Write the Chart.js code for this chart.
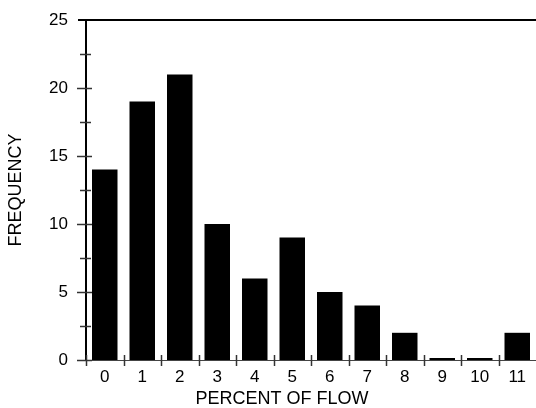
<!DOCTYPE html>
<html>
<head>
<meta charset="utf-8">
<script src="https://cdn.jsdelivr.net/npm/chart.js@4/dist/chart.umd.min.js"></script>
<style>
  html, body { margin: 0; padding: 0; background: #fff; }
  #wrap { width: 536px; height: 408px; }
</style>
</head>
<body>
<div id="wrap"><canvas id="chart" width="536" height="408"></canvas></div>
<script>
const categories = ['0', '1', '2', '3', '4', '5', '6', '7', '8', '9', '10', '11'];
const frequency = [14, 19, 21, 10, 6, 9, 5, 4, 2, 0, 0, 2];
const yTicks = [0, 5, 10, 15, 20, 25];
const xTitle = 'PERCENT OF FLOW';
const yTitle = 'FREQUENCY';

const INK = '#000';
const FONT = 'Arial, "Liberation Sans", sans-serif';

// axes, crossing tick marks and axis titles drawn over the bars
const framePlugin = {
  id: 'frame',
  afterDraw(chart) {
    const { ctx, chartArea: area, scales } = chart;
    const y = scales.y;
    const x = scales.x;
    const y0 = y.getPixelForValue(0);
    const yTop = y.getPixelForValue(yTicks[yTicks.length - 1]);

    ctx.save();

    // zero line
    ctx.lineWidth = 1;
    ctx.strokeStyle = '#444';
    ctx.beginPath();
    ctx.moveTo(area.left, y0 + 0.5);
    ctx.lineTo(area.right, y0 + 0.5);
    ctx.stroke();

    // top line
    ctx.strokeStyle = '#000';
    ctx.lineWidth = 2;
    ctx.beginPath();
    ctx.moveTo(area.left - 8, yTop);
    ctx.lineTo(area.right, yTop);
    ctx.stroke();

    // left axis
    ctx.beginPath();
    ctx.moveTo(area.left, yTop);
    ctx.lineTo(area.left, y0 + 1);
    ctx.stroke();

    // y tick marks every 2.5, major on multiples of 5
    ctx.lineWidth = 1.5;
    ctx.strokeStyle = '#333';
    for (let v = 0; v < 25; v += 2.5) {
      const py = Math.round(y.getPixelForValue(v)) + 0.5;
      const major = v % 5 === 0;
      ctx.beginPath();
      ctx.moveTo(area.left - (major ? 9 : 6), py);
      ctx.lineTo(area.left + (major ? 6 : 5), py);
      ctx.stroke();
    }

    // x tick marks at category boundaries
    const step = (area.right - area.left) / categories.length;
    for (let k = 0; k < categories.length; k++) {
      const px = Math.round(x.getPixelForValue(k) - step / 2) + 0.5;
      ctx.beginPath();
      ctx.moveTo(px, y0 - 5);
      ctx.lineTo(px, y0 + 6);
      ctx.stroke();
    }

    // axis titles
    ctx.fillStyle = INK;
    ctx.font = '18px ' + FONT;
    ctx.textAlign = 'center';
    ctx.textBaseline = 'middle';
    ctx.fillText(xTitle, 282, 399);

    ctx.translate(16, 190);
    ctx.rotate(-Math.PI / 2);
    ctx.fillText(yTitle, 0, 0);
    ctx.restore();
  },
};

new Chart(document.getElementById('chart'), {
  type: 'bar',
  data: {
    labels: categories,
    datasets: [
      {
        data: frequency,
        backgroundColor: '#000',
        borderWidth: 0,
        barPercentage: 0.68,
        categoryPercentage: 1,
        minBarLength: 2,
      },
    ],
  },
  options: {
    responsive: false,
    animation: false,
    layout: { padding: { top: 20, right: 0, left: 0, bottom: 0 } },
    plugins: {
      legend: { display: false },
      tooltip: { enabled: false },
    },
    scales: {
      x: {
        grid: { display: false, drawTicks: false },
        border: { display: false },
        ticks: {
          color: INK,
          font: { family: FONT, size: 17 },
          padding: 7,
          maxRotation: 0,
        },
        afterFit(scale) {
          scale.height = 48;
          scale.paddingLeft = 0;
          scale.paddingRight = 0;
        },
      },
      y: {
        min: 0,
        max: 25,
        grid: { display: false, drawTicks: false },
        border: { display: false },
        afterBuildTicks(scale) {
          scale.ticks = yTicks.map((value) => ({ value }));
        },
        ticks: {
          color: INK,
          font: { family: FONT, size: 17 },
          padding: 18,
        },
        afterFit(scale) {
          scale.width = 86;
          scale.paddingTop = 0;
          scale.paddingBottom = 0;
        },
      },
    },
  },
  plugins: [framePlugin],
});
</script>
</body>
</html>
